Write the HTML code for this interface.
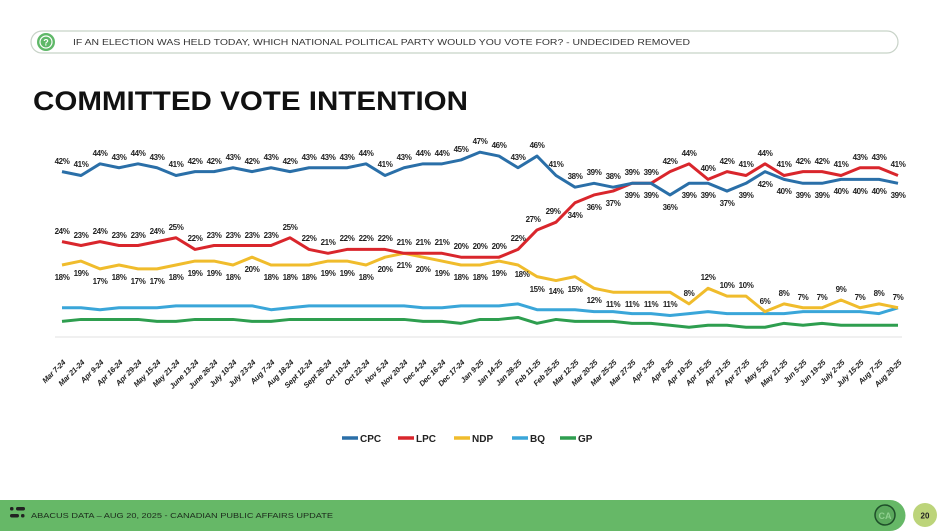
<!DOCTYPE html>
<html><head><meta charset="utf-8"><style>
html,body{margin:0;padding:0;background:#fff}
body{width:944px;height:531px;overflow:hidden;position:relative;font-family:"Liberation Sans",sans-serif}
</style></head><body>
<svg width="944" height="531" viewBox="0 0 944 531" xmlns="http://www.w3.org/2000/svg" style="position:absolute;left:0;top:0">
<!-- header pill -->
<rect x="31" y="31" width="867" height="22" rx="11" fill="#fff" stroke="#c8d3c8" stroke-width="1.2"/>
<circle cx="46" cy="42" r="9" fill="#5fb868"/>
<circle cx="46" cy="42" r="6" fill="none" stroke="#fff" stroke-width="1.2"/>
<text x="46" y="45.5" font-size="9" font-weight="bold" fill="#fff" text-anchor="middle">?</text>
<text x="73" y="45" font-size="8.3" fill="#333" textLength="617" lengthAdjust="spacingAndGlyphs">IF AN ELECTION WAS HELD TODAY, WHICH NATIONAL POLITICAL PARTY WOULD YOU VOTE FOR? - UNDECIDED REMOVED</text>
<text x="33" y="110" font-size="27" font-weight="bold" fill="#111" textLength="435" lengthAdjust="spacingAndGlyphs">COMMITTED VOTE INTENTION</text>

<line x1="55" y1="337" x2="902" y2="337" stroke="#e2e2e2" stroke-width="1"/>

<g transform="translate(62,335) scale(19,-3.89)" fill="none" stroke-width="3" stroke-linejoin="round">
<polyline vector-effect="non-scaling-stroke" stroke="#2e9e4f" points="0,3.5 1,4 2,4 3,4 4,4 5,3.5 6,3.5 7,4 8,4 9,4 10,3.5 11,3.5 12,4 13,4 14,4 15,4 16,4 17,4 18,4 19,3.5 20,3.5 21,3 22,4 23,4 24,4.5 25,3 26,4 27,3.5 28,3.5 29,3.5 30,3 31,3 32,2.5 33,2 34,2.5 35,2.5 36,2 37,2 38,3 39,2.5 40,3 41,2.5 42,2.5 43,2.5 44,2.5"/>
<polyline vector-effect="non-scaling-stroke" stroke="#3aa6d9" points="0,7 1,7 2,6.5 3,7 4,7 5,7 6,7.5 7,7.5 8,7.5 9,7.5 10,7.5 11,6.5 12,7 13,7.5 14,7.5 15,7.5 16,7.5 17,7.5 18,7.5 19,7 20,7 21,7.5 22,7.5 23,7.5 24,8 25,6.5 26,6.5 27,6.5 28,6 29,6 30,5.5 31,5.5 32,5 33,5.5 34,6 35,5.5 36,5.5 37,5.5 38,5.5 39,6 40,6 41,6 42,6 43,5.5 44,7"/>
<polyline vector-effect="non-scaling-stroke" stroke="#f0bc2c" points="0,18 1,19 2,17 3,18 4,17 5,17 6,18 7,19 8,19 9,18 10,20 11,18 12,18 13,18 14,19 15,19 16,18 17,20 18,21 19,20 20,19 21,18 22,18 23,19 24,18 25,15 26,14 27,15 28,12 29,11 30,11 31,11 32,11 33,8 34,12 35,10 36,10 37,6 38,8 39,7 40,7 41,9 42,7 43,8 44,7"/>
<polyline vector-effect="non-scaling-stroke" stroke="#d9262c" points="0,24 1,23 2,24 3,23 4,23 5,24 6,25 7,22 8,23 9,23 10,23 11,23 12,25 13,22 14,21 15,22 16,22 17,22 18,21 19,21 20,21 21,20 22,20 23,20 24,22 25,27 26,29 27,34 28,36 29,37 30,39 31,39 32,42 33,44 34,40 35,42 36,41 37,44 38,41 39,42 40,42 41,41 42,43 43,43 44,41"/>
<polyline vector-effect="non-scaling-stroke" stroke="#2a6fa8" points="0,42 1,41 2,44 3,43 4,44 5,43 6,41 7,42 8,42 9,43 10,42 11,43 12,42 13,43 14,43 15,43 16,44 17,41 18,43 19,44 20,44 21,45 22,47 23,46 24,43 25,46 26,41 27,38 28,39 29,38 30,39 31,39 32,36 33,39 34,39 35,37 36,39 37,42 38,40 39,39 40,39 41,40 42,40 43,40 44,39"/>
</g>

<g font-size="8" font-weight="bold" fill="#222" text-anchor="middle" letter-spacing="-0.4">
<!-- CPC -->
<text x="62" y="164">42%</text><text x="81" y="167">41%</text><text x="100" y="156">44%</text><text x="119" y="160">43%</text><text x="138" y="156">44%</text><text x="157" y="160">43%</text><text x="176" y="167">41%</text><text x="195" y="164">42%</text><text x="214" y="164">42%</text><text x="233" y="160">43%</text><text x="252" y="164">42%</text><text x="271" y="160">43%</text><text x="290" y="164">42%</text><text x="309" y="160">43%</text><text x="328" y="160">43%</text><text x="347" y="160">43%</text><text x="366" y="156">44%</text><text x="385" y="167">41%</text><text x="404" y="160">43%</text><text x="423" y="156">44%</text><text x="442" y="156">44%</text><text x="461" y="152">45%</text><text x="480" y="144">47%</text><text x="499" y="148">46%</text><text x="518" y="160">43%</text><text x="537" y="148">46%</text><text x="556" y="167">41%</text>
<text x="575" y="179">38%</text><text x="594" y="175">39%</text><text x="613" y="179">38%</text><text x="632" y="175">39%</text><text x="651" y="175">39%</text>
<text x="670" y="210">36%</text><text x="689" y="198">39%</text><text x="708" y="198">39%</text><text x="727" y="206">37%</text><text x="746" y="198">39%</text><text x="765" y="187">42%</text><text x="784" y="194">40%</text><text x="803" y="198">39%</text><text x="822" y="198">39%</text><text x="841" y="194">40%</text><text x="860" y="194">40%</text><text x="879" y="194">40%</text><text x="898" y="198">39%</text>
<!-- LPC -->
<text x="62" y="234">24%</text><text x="81" y="238">23%</text><text x="100" y="234">24%</text><text x="119" y="238">23%</text><text x="138" y="238">23%</text><text x="157" y="234">24%</text><text x="176" y="230">25%</text><text x="195" y="241">22%</text><text x="214" y="238">23%</text><text x="233" y="238">23%</text><text x="252" y="238">23%</text><text x="271" y="238">23%</text><text x="290" y="230">25%</text><text x="309" y="241">22%</text><text x="328" y="245">21%</text><text x="347" y="241">22%</text><text x="366" y="241">22%</text><text x="385" y="241">22%</text><text x="404" y="245">21%</text><text x="423" y="245">21%</text><text x="442" y="245">21%</text><text x="461" y="249">20%</text><text x="480" y="249">20%</text><text x="499" y="249">20%</text><text x="518" y="241">22%</text><text x="533" y="222">27%</text><text x="553" y="214">29%</text>
<text x="575" y="218">34%</text><text x="594" y="210">36%</text><text x="613" y="206">37%</text><text x="632" y="198">39%</text><text x="651" y="198">39%</text>
<text x="670" y="164">42%</text><text x="689" y="156">44%</text><text x="708" y="171">40%</text><text x="727" y="164">42%</text><text x="746" y="167">41%</text><text x="765" y="156">44%</text><text x="784" y="167">41%</text><text x="803" y="164">42%</text><text x="822" y="164">42%</text><text x="841" y="167">41%</text><text x="860" y="160">43%</text><text x="879" y="160">43%</text><text x="898" y="167">41%</text>
<!-- NDP -->
<text x="62" y="280">18%</text><text x="81" y="276">19%</text><text x="100" y="284">17%</text><text x="119" y="280">18%</text><text x="138" y="284">17%</text><text x="157" y="284">17%</text><text x="176" y="280">18%</text><text x="195" y="276">19%</text><text x="214" y="276">19%</text><text x="233" y="280">18%</text><text x="252" y="272">20%</text><text x="271" y="280">18%</text><text x="290" y="280">18%</text><text x="309" y="280">18%</text><text x="328" y="276">19%</text><text x="347" y="276">19%</text><text x="366" y="280">18%</text><text x="385" y="272">20%</text><text x="404" y="268">21%</text><text x="423" y="272">20%</text><text x="442" y="276">19%</text><text x="461" y="280">18%</text><text x="480" y="280">18%</text><text x="499" y="276">19%</text><text x="522" y="277">18%</text><text x="537" y="292">15%</text><text x="556" y="294">14%</text><text x="575" y="292">15%</text><text x="594" y="303">12%</text><text x="613" y="307">11%</text><text x="632" y="307">11%</text><text x="651" y="307">11%</text><text x="670" y="307">11%</text>
<text x="689" y="296">8%</text><text x="708" y="280">12%</text><text x="727" y="288">10%</text><text x="746" y="288">10%</text><text x="765" y="304">6%</text><text x="784" y="296">8%</text><text x="803" y="300">7%</text><text x="822" y="300">7%</text><text x="841" y="292">9%</text><text x="860" y="300">7%</text><text x="879" y="296">8%</text><text x="898" y="300">7%</text>
</g>

<g font-size="7.6" font-weight="bold" font-style="italic" fill="#222" text-anchor="end" letter-spacing="-0.2">
<text transform="translate(66,363) rotate(-45)">Mar 7-24</text>
<text transform="translate(85,363) rotate(-45)">Mar 21-24</text>
<text transform="translate(104,363) rotate(-45)">Apr 9-24</text>
<text transform="translate(123,363) rotate(-45)">Apr 16-24</text>
<text transform="translate(142,363) rotate(-45)">Apr 29-24</text>
<text transform="translate(161,363) rotate(-45)">May 15-24</text>
<text transform="translate(180,363) rotate(-45)">May 21-24</text>
<text transform="translate(199,363) rotate(-45)">June 13-24</text>
<text transform="translate(218,363) rotate(-45)">June 26-24</text>
<text transform="translate(237,363) rotate(-45)">July 10-24</text>
<text transform="translate(256,363) rotate(-45)">July 23-24</text>
<text transform="translate(275,363) rotate(-45)">Aug 7-24</text>
<text transform="translate(294,363) rotate(-45)">Aug 18-24</text>
<text transform="translate(313,363) rotate(-45)">Sept 12-24</text>
<text transform="translate(332,363) rotate(-45)">Sept 26-24</text>
<text transform="translate(351,363) rotate(-45)">Oct 10-24</text>
<text transform="translate(370,363) rotate(-45)">Oct 22-24</text>
<text transform="translate(389,363) rotate(-45)">Nov 5-24</text>
<text transform="translate(408,363) rotate(-45)">Nov 20-24</text>
<text transform="translate(427,363) rotate(-45)">Dec 4-24</text>
<text transform="translate(446,363) rotate(-45)">Dec 16-24</text>
<text transform="translate(465,363) rotate(-45)">Dec 17-24</text>
<text transform="translate(484,363) rotate(-45)">Jan 9-25</text>
<text transform="translate(503,363) rotate(-45)">Jan 14-25</text>
<text transform="translate(522,363) rotate(-45)">Jan 28-25</text>
<text transform="translate(541,363) rotate(-45)">Feb 11-25</text>
<text transform="translate(560,363) rotate(-45)">Feb 25-25</text>
<text transform="translate(579,363) rotate(-45)">Mar 12-25</text>
<text transform="translate(598,363) rotate(-45)">Mar 20-25</text>
<text transform="translate(617,363) rotate(-45)">Mar 25-25</text>
<text transform="translate(636,363) rotate(-45)">Mar 27-25</text>
<text transform="translate(655,363) rotate(-45)">Apr 3-25</text>
<text transform="translate(674,363) rotate(-45)">Apr 8-25</text>
<text transform="translate(693,363) rotate(-45)">Apr 10-25</text>
<text transform="translate(712,363) rotate(-45)">Apr 15-25</text>
<text transform="translate(731,363) rotate(-45)">Apr 21-25</text>
<text transform="translate(750,363) rotate(-45)">Apr 27-25</text>
<text transform="translate(769,363) rotate(-45)">May 5-25</text>
<text transform="translate(788,363) rotate(-45)">May 21-25</text>
<text transform="translate(807,363) rotate(-45)">Jun 5-25</text>
<text transform="translate(826,363) rotate(-45)">Jun 19-25</text>
<text transform="translate(845,363) rotate(-45)">July 2-25</text>
<text transform="translate(864,363) rotate(-45)">July 15-25</text>
<text transform="translate(883,363) rotate(-45)">Aug 7-25</text>
<text transform="translate(902,363) rotate(-45)">Aug 20-25</text>
</g>

<!-- legend -->
<g stroke-width="3.5">
<line x1="342" y1="438" x2="358" y2="438" stroke="#2a6fa8"/>
<line x1="398" y1="438" x2="414" y2="438" stroke="#d9262c"/>
<line x1="454" y1="438" x2="470" y2="438" stroke="#f0bc2c"/>
<line x1="512" y1="438" x2="528" y2="438" stroke="#3aa6d9"/>
<line x1="560" y1="438" x2="576" y2="438" stroke="#2e9e4f"/>
</g>
<g font-size="10" font-weight="bold" fill="#222">
<text x="360" y="442">CPC</text><text x="416" y="442">LPC</text><text x="472" y="442">NDP</text><text x="530" y="442">BQ</text><text x="578" y="442">GP</text>
</g>

<!-- footer -->
<path d="M0,500 H890 A15.5,15.5 0 0 1 890,531 H0 Z" fill="#66b867"/>
<rect x="10" y="507" width="3.5" height="3.5" rx="1.5" fill="#222"/>
<rect x="16" y="507" width="9" height="3.5" rx="1.7" fill="#222"/>
<rect x="10" y="514" width="9" height="3.5" rx="1.7" fill="#222"/>
<rect x="21" y="514" width="3.5" height="3.5" rx="1.5" fill="#222"/>
<text x="31" y="518" font-size="7.5" fill="#1c2a1c" textLength="302" lengthAdjust="spacingAndGlyphs">ABACUS DATA – AUG 20, 2025 - CANADIAN PUBLIC AFFAIRS UPDATE</text>
<circle cx="885" cy="515" r="10" fill="#5aa85c" stroke="#1f4f2a" stroke-width="1.5"/>
<text x="885" y="519" font-size="9" font-weight="bold" fill="#8fd08f" text-anchor="middle">CA</text>
<circle cx="925" cy="515" r="12" fill="#bcd47a"/>
<text x="925" y="518.5" font-size="8" font-weight="bold" fill="#222" text-anchor="middle">20</text>
</svg>
</body></html>
